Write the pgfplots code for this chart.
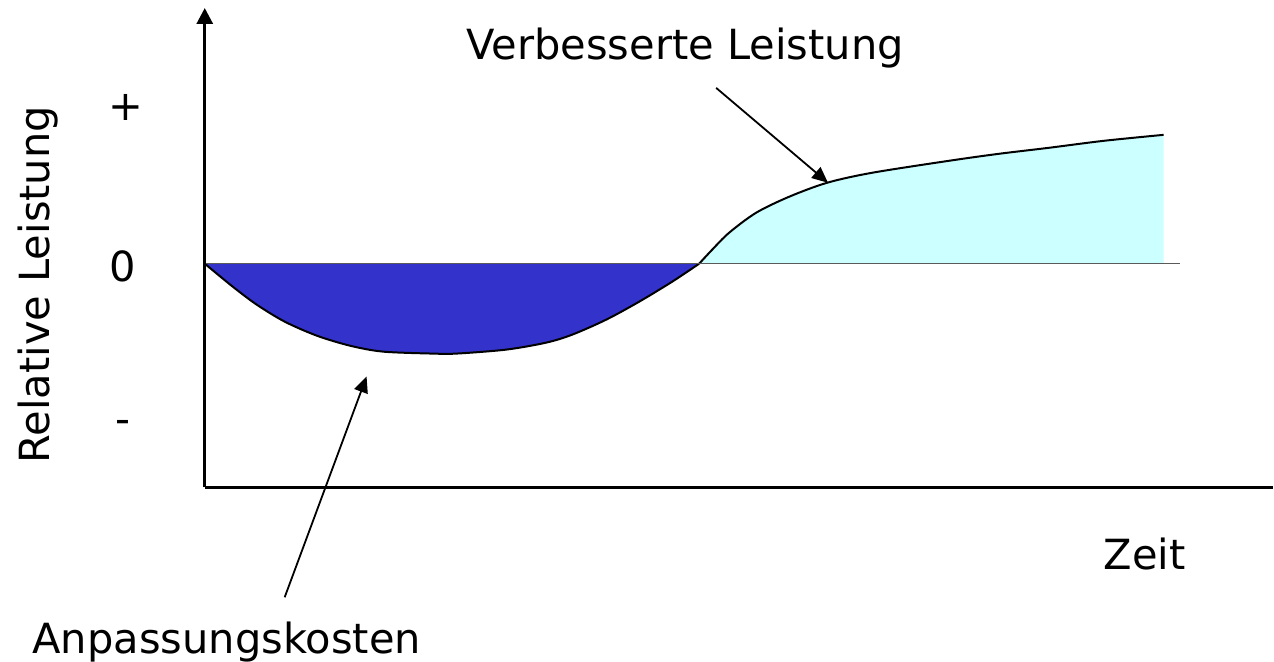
\documentclass[border=0pt]{standalone}
\usepackage{pgfplots}
\pgfplotsset{compat=1.18}
\usepackage{fontspec}
\setmainfont{DejaVu Sans}
\usetikzlibrary{arrows.meta}

\definecolor{kostblau}{RGB}{51,51,204}
\definecolor{leistcyan}{RGB}{204,255,255}
\definecolor{nullgrau}{RGB}{90,90,90}

\tikzset{lbl/.style={font=\fontsize{20.8}{25}\selectfont, inner sep=0pt}}

\begin{document}
\begin{tikzpicture}
\begin{axis}[
	x=0.5pt, y=0.5pt,
	xmin=-205, xmax=1069,
	ymin=-397, ymax=264,
	hide axis,
	clip=false,
	]
	% Rahmen fuer die Bildgroesse
	\path (axis cs:-205,-397) rectangle (axis cs:1069,264);

	% Anpassungskosten (unter Null)
	\addplot[fill=kostblau, draw=none, smooth] coordinates {
		(0,0) (28,-23) (52,-41) (80,-58) (112,-72) (145,-82) (178,-88)
		(228,-90) (252,-90) (302,-86) (342,-79) (368,-71) (402,-56)
		(435,-38) (468,-18) (495,0)
	} \closedcycle;
	% verbesserte Leistung (ueber Null)
	\addplot[fill=leistcyan, draw=none, smooth] coordinates {
		(495,0) (508,14) (525,31) (552,51) (585,67) (623,81) (668,91)
		(745,103) (795,110) (845,116) (900,123) (960,129)
	} \closedcycle;

	\addplot[black, line width=1pt, smooth] coordinates {
		(0,0) (28,-23) (52,-41) (80,-58) (112,-72) (145,-82) (178,-88)
		(228,-90) (252,-90) (302,-86) (342,-79) (368,-71) (402,-56)
		(435,-38) (468,-18) (495,0)
	};
	\addplot[black, line width=1pt, smooth] coordinates {
		(495,0) (508,14) (525,31) (552,51) (585,67) (623,81) (668,91)
		(745,103) (795,110) (845,116) (900,123) (960,129)
	};

	% Nulllinie
	\draw[nullgrau, line width=0.6pt] (axis cs:0,0) -- (axis cs:976,0);

	% Achsen
	\draw[black, line width=1.5pt] (axis cs:0,-224) -- (axis cs:1069,-224);
	\draw[black, line width=1.5pt, -{Triangle[length=8pt,width=8pt]}]
		(axis cs:0,-224) -- (axis cs:0,256);

	% Pfeile
	\draw[black, line width=0.9pt, -{Triangle[length=8pt,width=7pt]}]
		(axis cs:512,176) -- (axis cs:624,81);
	\draw[black, line width=0.9pt, -{Triangle[length=8pt,width=7pt]}]
		(axis cs:80,-334) -- (axis cs:162,-113);

	% Beschriftungen
	\node[lbl, anchor=base] at (axis cs:481,204) {Verbesserte Leistung};
	\node[lbl, anchor=base] at (axis cs:941,-306) {Zeit};
	\node[lbl, anchor=base] at (axis cs:22,-390) {Anpassungskosten};
	\node[lbl, anchor=base, rotate=90] at (axis cs:-155,-21) {Relative Leistung};
	\node[lbl] at (axis cs:-79,156) {+};
	\node[lbl] at (axis cs:-82,-3) {0};
	\node[lbl] at (axis cs:-82,-163) {-};
\end{axis}
\end{tikzpicture}
\end{document}
